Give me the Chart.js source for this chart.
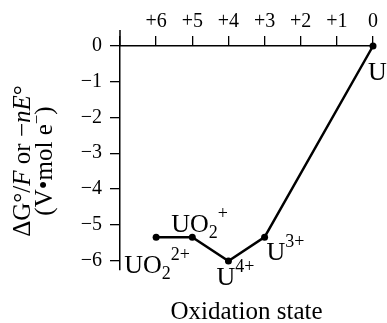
<!DOCTYPE html>
<html><head><meta charset="utf-8">
<script src="https://cdn.jsdelivr.net/npm/chart.js@4"></script>
<style>html,body{margin:0;padding:0;background:#fff}</style>
</head><body>
<canvas id="c" width="387" height="323"></canvas>
<script>
// ---- data ----
const oxidationStates = [6, 5, 4, 3, 0];
const frostValues = [-5.35, -5.35, -6.02, -5.35, 0];
const speciesBase = ['UO', 'UO', 'U', 'U', 'U'];
const speciesSub = ['2', '2', '', '', ''];
const speciesSup = ['2+', '+', '4+', '3+', ''];
const xTickValues = [7, 6, 5, 4, 3, 2, 1, 0];
const yTickValues = [0, -1, -2, -3, -4, -5, -6];
const xTitle = 'Oxidation state';

// ---- styles ----
const SERIF = '"Liberation Serif", "DejaVu Serif", serif';
const labelOffsets = [[-32, 36], [-21, -5], [-12, 24], [2, 23], [-5, 34]];

const decor = {
  id: 'decor',
  afterDraw(chart) {
    const ctx = chart.ctx, ca = chart.chartArea;
    ctx.save();
    // y axis line extension above the x axis
    ctx.strokeStyle = '#000'; ctx.lineWidth = 1.5;
    ctx.beginPath(); ctx.moveTo(ca.left, ca.top); ctx.lineTo(ca.left, ca.top - 16); ctx.stroke();

    // species labels
    const meta = chart.getDatasetMeta(0);
    ctx.fillStyle = '#000'; ctx.textBaseline = 'alphabetic'; ctx.textAlign = 'left';
    meta.data.forEach((pt, i) => {
      let x = pt.x + labelOffsets[i][0], y = pt.y + labelOffsets[i][1];
      ctx.font = '26px ' + SERIF;
      ctx.fillText(speciesBase[i], x, y);
      x += ctx.measureText(speciesBase[i]).width;
      ctx.font = '18px ' + SERIF;
      if (speciesSub[i]) { ctx.fillText(speciesSub[i], x, y + 6); x += ctx.measureText(speciesSub[i]).width; }
      if (speciesSup[i]) { ctx.fillText(speciesSup[i], x, y - 13); }
    });

    // x title
    ctx.font = '25px ' + SERIF; ctx.textAlign = 'center';
    ctx.fillText(xTitle, (ca.left + ca.right) / 2, 319);

    // y title (rotated, mixed italic)
    const drawRot = (segs, cx, cy) => {
      ctx.save();
      ctx.translate(cx, cy); ctx.rotate(-Math.PI / 2);
      ctx.textAlign = 'left';
      let total = 0;
      segs.forEach(s => { ctx.font = s.f; total += ctx.measureText(s.t).width; });
      let x = -total / 2;
      segs.forEach(s => { ctx.font = s.f; ctx.fillText(s.t, x, s.dy || 0); x += ctx.measureText(s.t).width; });
      ctx.restore();
    };
    const N = '25px ' + SERIF, I = 'italic 25px ' + SERIF, S = '17px ' + SERIF;
    drawRot([{t: 'ΔG°/', f: N}, {t: 'F', f: I}, {t: ' or \u2212', f: N}, {t: 'nE', f: I}, {t: '°', f: N}], 30, 161);
    drawRot([{t: '(V\u2022mol e', f: N}, {t: '\u2212', f: S, dy: -10}, {t: ')', f: N}], 52, 161);
    ctx.restore();
  }
};

new Chart(document.getElementById('c'), {
  type: 'line',
  data: {
    datasets: [{
      data: oxidationStates.map((x, i) => ({x, y: frostValues[i]})),
      borderColor: '#000', borderWidth: 2.5,
      pointRadius: 3.5, pointBackgroundColor: '#000', pointBorderColor: '#000', pointBorderWidth: 0,
      tension: 0, clip: false
    }]
  },
  options: {
    responsive: false, animation: false, devicePixelRatio: 1,
    layout: {padding: {left: 0, right: 14, top: 0, bottom: 53}},
    plugins: {legend: {display: false}, tooltip: {enabled: false}},
    scales: {
      x: {
        type: 'linear', position: 'top', reverse: true, min: 0, max: 7,
        afterFit(s) { s.height = 46; },
        afterBuildTicks(s) { s.ticks = xTickValues.map(v => ({value: v})); },
        ticks: {
          color: '#000', padding: 2, maxRotation: 0, autoSkip: false,
          font: {family: SERIF, size: 20},
          callback: v => v === 7 ? '' : (v === 0 ? '0' : '+' + v)
        },
        grid: {drawOnChartArea: false, drawTicks: true, tickLength: 10, color: '#000', lineWidth: 1.3},
        border: {display: true, color: '#000', width: 1.5}
      },
      y: {
        type: 'linear', position: 'left', min: -6.27, max: 0,
        afterFit(s) { s.width = 120; },
        afterBuildTicks(s) { s.ticks = yTickValues.map(v => ({value: v})); },
        ticks: {
          color: '#000', padding: 8, autoSkip: false,
          font: {family: SERIF, size: 20},
          callback: v => v === 0 ? '0' : '\u2212' + Math.abs(v)
        },
        grid: {drawOnChartArea: false, drawTicks: true, tickLength: 10, color: '#000', lineWidth: 1.3},
        border: {display: true, color: '#000', width: 1.5}
      }
    }
  },
  plugins: [decor]
});
</script>
</body></html>
